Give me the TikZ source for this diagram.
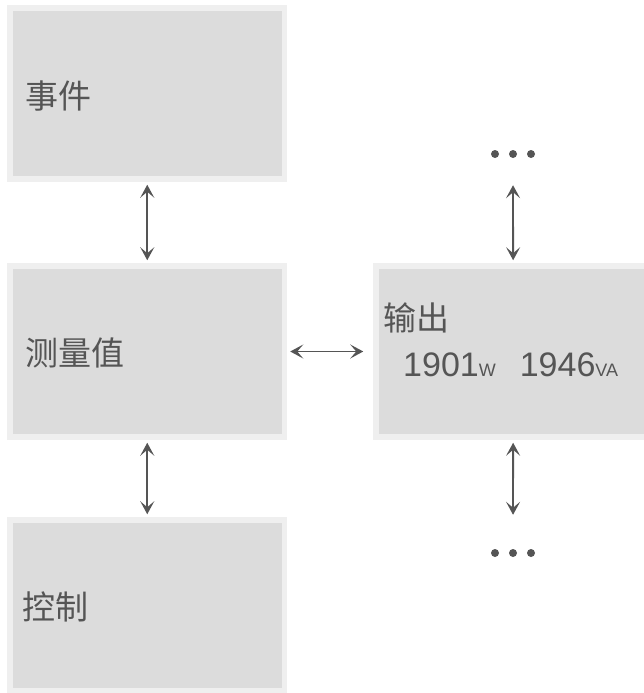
\documentclass[tikz,border=0pt]{standalone}
\usepackage{fontspec}
\setmainfont{Liberation Sans}
\newfontfamily\cjk{Noto Sans CJK SC}
\usetikzlibrary{arrows.meta,positioning}
\definecolor{boxfill}{HTML}{DCDCDC}
\definecolor{boxedge}{HTML}{EFEFEF}
\definecolor{ink}{HTML}{555555}

\begin{document}
\begin{tikzpicture}[x=1pt, y=-1pt,
		panel/.style={draw=boxedge, fill=boxfill, line width=5.5pt, minimum width=274.5pt, minimum height=171pt, inner sep=0pt},
		lbl/.style={anchor=west, inner sep=0pt, text=ink, font=\cjk\fontsize{33}{36}\selectfont},
		both/.style={draw=ink, line width=1.8pt, {Stealth[length=13pt,width=14pt,inset=6pt]}-{Stealth[length=13pt,width=14pt,inset=6pt]}, shorten <=3pt, shorten >=3pt},
		dots/.style={minimum width=44pt, minimum height=62pt, inner sep=0pt}]
	\useasboundingbox (0,0) rectangle (644,693);
	% boxes
	\node[panel] (ev) at (147.25,93.5) {};
	\node[panel] (meas) at (147.25,351.5) {};
	\node[panel] (ctrl) at (147.25,605.5) {};
	\node[panel] (out) at (513.25,351.5) {};
	\node[dots] (dotsup) at (513,154) {};
	\node[dots] (dotsdn) at (513,553) {};
	\foreach \dx in {-18,0,18} {
		\fill[ink] ([xshift=\dx pt]dotsup.center) circle (4);
		\fill[ink] ([xshift=\dx pt]dotsdn.center) circle (4);
	}
	% labels
	\node[lbl] (evtxt) at (25,96) {事件};
	\node[lbl] (meastxt) at (25,353) {测量值};
	\node[lbl] (ctrltxt) at (22,607) {控制};
	\node[lbl] (outtxt) at (383,318) {输出};
	\node[anchor=base west, inner sep=0pt, text=ink, font=\fontsize{34}{40}\selectfont] (outval) at (403,376)
		{1901{\fontsize{18}{20}\selectfont W}\hspace{24pt}1946{\fontsize{18}{20}\selectfont VA}};
	% links
	\draw[both] (ev) -- (meas);
	\draw[both] (meas) -- (ctrl);
	\draw[both, shorten >=10pt] (meas) -- (out);
	\draw[both, shorten <=0pt] (dotsup) -- (out);
	\draw[both, shorten >=7pt] (out) -- (dotsdn);
\end{tikzpicture}
\end{document}
